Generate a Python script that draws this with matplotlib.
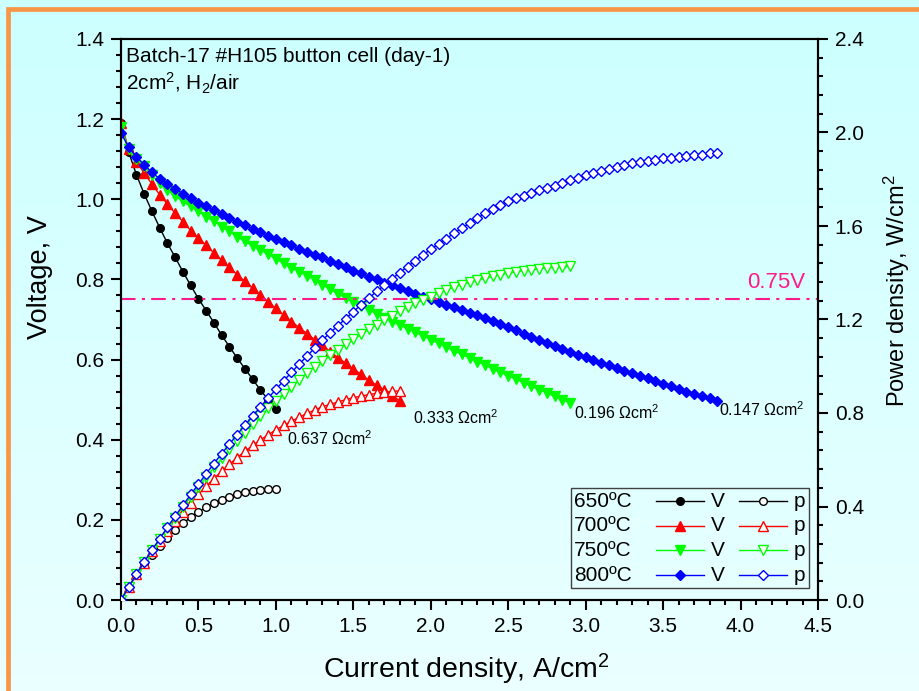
import numpy as np
import matplotlib.pyplot as plt
from matplotlib.ticker import MultipleLocator, FormatStrFormatter
from matplotlib.patches import Rectangle
from matplotlib.lines import Line2D
from matplotlib.offsetbox import TextArea, DrawingArea, HPacker, VPacker, AnchoredOffsetbox

plt.rcParams['font.family'] = ['Liberation Sans', 'DejaVu Sans']
plt.rcParams['mathtext.fontset'] = 'custom'
plt.rcParams['mathtext.rm'] = 'Liberation Sans'
plt.rcParams['mathtext.default'] = 'regular'

# current density, A/cm2
current = [0.00, 0.05, 0.10, 0.15, 0.20, 0.25, 0.30, 0.35, 0.40, 0.45,
           0.50, 0.55, 0.60, 0.65, 0.70, 0.75, 0.80, 0.85, 0.90, 0.95,
           1.00, 1.05, 1.10, 1.15, 1.20, 1.25, 1.30, 1.35, 1.40, 1.45,
           1.50, 1.55, 1.60, 1.65, 1.70, 1.75, 1.80, 1.85, 1.90, 1.95,
           2.00, 2.05, 2.10, 2.15, 2.20, 2.25, 2.30, 2.35, 2.40, 2.45,
           2.50, 2.55, 2.60, 2.65, 2.70, 2.75, 2.80, 2.85, 2.90, 2.95,
           3.00, 3.05, 3.10, 3.15, 3.20, 3.25, 3.30, 3.35, 3.40, 3.45,
           3.50, 3.55, 3.60, 3.65, 3.70, 3.75, 3.80, 3.85]

# cell voltage, V
v_650 = [1.190, 1.117, 1.061, 1.013, 0.970, 0.929, 0.890, 0.855, 0.819, 0.785,
         0.752, 0.722, 0.692, 0.661, 0.632, 0.604, 0.577, 0.551, 0.524, 0.500,
         0.476]
v_700 = [1.190, 1.125, 1.094, 1.065, 1.038, 1.011, 0.988, 0.965, 0.944, 0.922,
         0.903, 0.885, 0.866, 0.848, 0.830, 0.812, 0.795, 0.778, 0.761, 0.744,
         0.728, 0.711, 0.695, 0.680, 0.665, 0.650, 0.636, 0.620, 0.605, 0.591,
         0.577, 0.563, 0.549, 0.536, 0.523, 0.510, 0.497]
v_750 = [1.180, 1.125, 1.100, 1.083, 1.060, 1.040, 1.024, 1.008, 0.995, 0.982,
         0.970, 0.957, 0.945, 0.932, 0.920, 0.907, 0.895, 0.884, 0.873, 0.863,
         0.851, 0.840, 0.829, 0.819, 0.809, 0.799, 0.787, 0.776, 0.764, 0.754,
         0.743, 0.733, 0.724, 0.714, 0.704, 0.695, 0.686, 0.677, 0.668, 0.659,
         0.649, 0.641, 0.632, 0.622, 0.613, 0.604, 0.595, 0.586, 0.577, 0.568,
         0.559, 0.551, 0.542, 0.533, 0.525, 0.517, 0.508, 0.500, 0.492]
v_800 = [1.165, 1.130, 1.106, 1.086, 1.067, 1.051, 1.038, 1.026, 1.014, 1.003,
         0.991, 0.982, 0.973, 0.963, 0.953, 0.944, 0.935, 0.926, 0.918, 0.909,
         0.901, 0.893, 0.885, 0.877, 0.869, 0.862, 0.855, 0.847, 0.838, 0.830,
         0.822, 0.815, 0.807, 0.800, 0.792, 0.785, 0.778, 0.771, 0.764, 0.757,
         0.750, 0.743, 0.736, 0.730, 0.723, 0.716, 0.710, 0.704, 0.697, 0.690,
         0.682, 0.674, 0.665, 0.657, 0.649, 0.641, 0.633, 0.626, 0.619, 0.612,
         0.606, 0.599, 0.592, 0.586, 0.579, 0.572, 0.566, 0.559, 0.553, 0.546,
         0.540, 0.533, 0.527, 0.520, 0.514, 0.508, 0.503, 0.497]

temps = ['650', '700', '750', '800']
voltages = [v_650, v_700, v_750, v_800]
asr = ['0.637', '0.333', '0.196', '0.147']
asr_pos = [(1.07, 0.387), (1.885, 0.439), (2.924, 0.452), (3.86, 0.459)]

colors = ['black', 'red', '#00FF00', 'blue']
markers = ['o', '^', 'v', 'D']
msizes = [5.5, 6.5, 6.5, 5.0]

fig = plt.figure(figsize=(9.19, 6.91), dpi=100)

# background gradient + orange frame
bg = fig.add_axes([0, 0, 1, 1], zorder=-10)
grad = np.linspace(0, 1, 256).reshape(-1, 1)
top_c = np.array([0.80, 1.0, 1.0])
bot_c = np.array([0.92, 1.0, 1.0])
img = top_c + (bot_c - top_c) * grad[:, :, None]
bg.imshow(img, aspect='auto', extent=[0, 1, 0, 1], origin='upper')
bg.axis('off')
fig.patches.append(Rectangle((7.5 / 919, -0.05), 1.2, 1.05 - 9.5 / 691,
                             transform=fig.transFigure, fill=False,
                             edgecolor='#F79646', linewidth=3.4, zorder=5))

ax = fig.add_axes([121 / 919, 91 / 691, 697 / 919, 561 / 691])
ax.patch.set_visible(False)
ax2 = ax.twinx()

for I_len, v, c, m, ms in zip([21, 37, 59, 78], voltages, colors, markers, msizes):
    I = np.array(current[:I_len])
    ax.plot(I, v, color=c, marker=m, markersize=ms, linewidth=1, zorder=3)
    # power density = current density x voltage
    p = I * np.array(v)
    ax2.plot(I, p, color=c, marker=m, markersize=ms, linewidth=1,
             markerfacecolor='white', markeredgewidth=1, zorder=3)

ax.axhline(0.75, color='#FF1A8C', linewidth=1.5, linestyle=(0, (7, 3, 1.5, 3)), zorder=6)
ax.text(4.42, 0.779, '0.75V', color='#FF1A8C', fontsize=16, ha='right', va='baseline', zorder=6)

for lbl, (x, y) in zip(asr, asr_pos):
    ax.text(x, y, lbl + ' Ωcm$^2$', fontsize=11.5, ha='left', va='baseline')

ax.text(0.03, 1.342, 'Batch-17 #H105 button cell (day-1)', fontsize=15, va='baseline')
ax.text(0.03, 1.272, '2cm$^2$, H$_2$/air', fontsize=15, va='baseline')

ax.set_xlim(0, 4.5)
ax.set_ylim(0, 1.4)
ax2.set_ylim(0, 2.4)

ax.xaxis.set_major_locator(MultipleLocator(0.5))
ax.xaxis.set_minor_locator(MultipleLocator(0.1))
ax.yaxis.set_major_locator(MultipleLocator(0.2))
ax.yaxis.set_minor_locator(MultipleLocator(0.04))
ax2.yaxis.set_major_locator(MultipleLocator(0.4))
ax2.yaxis.set_minor_locator(MultipleLocator(0.08))
ax.xaxis.set_major_formatter(FormatStrFormatter('%.1f'))
ax.yaxis.set_major_formatter(FormatStrFormatter('%.1f'))
ax2.yaxis.set_major_formatter(FormatStrFormatter('%.1f'))

for a in (ax, ax2):
    for s in a.spines.values():
        s.set_linewidth(1.5)
    a.tick_params(which='major', direction='out', length=7, width=1.5, labelsize=15, pad=5)
    a.tick_params(which='minor', direction='out', length=3.5, width=1.5)
ax.tick_params(which='both', top=False, right=False)
ax2.tick_params(which='both', left=False, top=False)

ax.set_xlabel('Current density, A/cm$^2$', fontsize=20.5)
ax.set_ylabel('Voltage, V', fontsize=19.5)
ax2.set_ylabel('Power density, W/cm$^2$', fontsize=17)
ax.xaxis.set_label_coords(0.495, -0.092)
ax.yaxis.set_label_coords(-0.097, 0.575)
ax2.yaxis.set_label_coords(1.092, 0.552)

# legend: "650ºC  —●— V  —○— p"
px = 72 / 100
rows = []
for t, c, m, ms in zip(temps, colors, markers, msizes):
    txt = TextArea(t + 'ºC', textprops=dict(fontsize=15))
    da_v = DrawingArea(79 * px, 18 * px)
    da_v.add_artist(Line2D([24 * px, 48 * px, 72 * px], [9 * px] * 3, color=c, linewidth=1,
                           marker=m, markersize=ms, markevery=[1]))
    tv = TextArea('V', textprops=dict(fontsize=15))
    da_p = DrawingArea(69 * px, 18 * px)
    da_p.add_artist(Line2D([14 * px, 38 * px, 62 * px], [9 * px] * 3, color=c, linewidth=1,
                           marker=m, markersize=ms, markevery=[1], markerfacecolor='white'))
    tp = TextArea('p', textprops=dict(fontsize=15))
    rows.append(HPacker(children=[txt, da_v, tv, da_p, tp], align='center', pad=0, sep=0))
box = VPacker(children=rows, align='left', pad=0, sep=4)
leg = AnchoredOffsetbox(loc='lower right', child=box, pad=0.25, borderpad=0, frameon=True,
                        bbox_to_anchor=(0.987, 0.0214), bbox_transform=ax.transAxes)
leg.patch.set_edgecolor('#404040')
leg.patch.set_facecolor('none')
leg.patch.set_linewidth(1)
leg.patch.set_boxstyle('square', pad=0)
leg.set_zorder(10)
ax2.add_artist(leg)

fig.savefig('out.png', dpi=100)
